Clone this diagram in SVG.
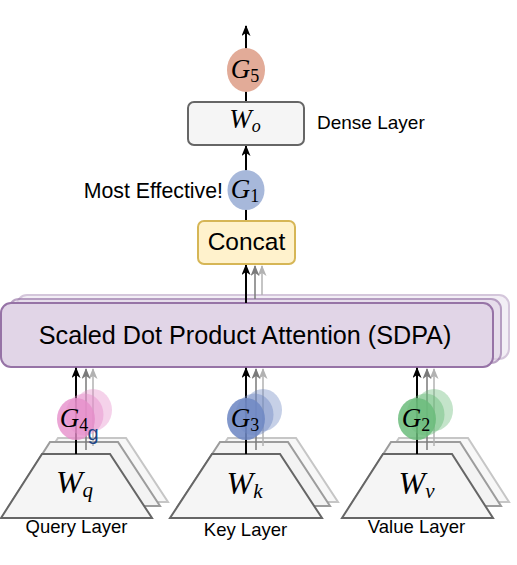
<svg xmlns="http://www.w3.org/2000/svg" width="517" height="565" viewBox="0 0 517 565">
<style>
.lbl{font-family:"Liberation Sans",Arial,sans-serif;fill:#000}
.math{font-family:"Liberation Serif","Times New Roman",serif;fill:#000}
.k{stroke:#000;stroke-width:2;fill:none;marker-end:url(#ahk)}
.g1{stroke:#7a7a7a;stroke-width:1.5;fill:none;marker-end:url(#ahg1)}
.g2{stroke:#b2b2b2;stroke-width:1.5;fill:none;marker-end:url(#ahg2)}
.trap{fill:#f5f5f5;stroke:#666;stroke-width:2}
.trap2{fill:#f3f3f3;stroke:#9c9c9c;stroke-width:2}
.trap3{fill:#f7f7f7;stroke:#c6c6c6;stroke-width:2}
.sdpa{fill:#e1d5e7;stroke:#9673a6;stroke-width:2}
.box{fill:#f5f5f5;stroke:#666;stroke-width:2}
</style>
<defs>
<marker id="ahk" viewBox="0 0 11 9" markerWidth="11" markerHeight="9" refX="10" refY="4.5" orient="auto" markerUnits="userSpaceOnUse"><path d="M0,0 L11,4.5 L0,9 L3,4.5 z" fill="#000"/></marker>
<marker id="ahg1" viewBox="0 0 11 9" markerWidth="11" markerHeight="9" refX="10" refY="4.5" orient="auto" markerUnits="userSpaceOnUse"><path d="M0,0 L11,4.5 L0,9 L3,4.5 z" fill="#7a7a7a"/></marker>
<marker id="ahg2" viewBox="0 0 11 9" markerWidth="11" markerHeight="9" refX="10" refY="4.5" orient="auto" markerUnits="userSpaceOnUse"><path d="M0,0 L11,4.5 L0,9 L3,4.5 z" fill="#b2b2b2"/></marker>
</defs>
<rect width="517" height="565" fill="#fff"/>

<g id="sdpa">
<rect x="17" y="295" width="492" height="64" rx="10" class="sdpa" opacity="0.4"/>
<rect x="9" y="299" width="492" height="64" rx="10" class="sdpa" opacity="0.65"/>
<rect x="1" y="303" width="492" height="64" rx="10" class="sdpa"/>
<text class="lbl" x="245" y="344" text-anchor="middle" font-size="25.2">Scaled Dot Product Attention (SDPA)</text>
</g>

<g id="query-layer">
<polygon class="trap3" points="58,438 126,438 168,502 17,502"/>
<polygon class="trap2" points="50,442 118,442 160,506 9,506"/>
<polygon class="trap" points="42,454 110,454 152,518 1,518"/>
<text class="math" x="74.5" y="493" text-anchor="middle" font-size="32"><tspan font-style="italic">W</tspan><tspan font-style="italic" font-size="21" dy="4">q</tspan></text>
<text class="lbl" x="76.5" y="533" text-anchor="middle" font-size="18.5">Query Layer</text>
</g>

<g id="key-layer">
<polygon class="trap3" points="228,438 296,438 338,502 186,502"/>
<polygon class="trap2" points="220,442 288,442 330,506 178,506"/>
<polygon class="trap" points="212,454 280,454 322,518 170,518"/>
<text class="math" x="244.5" y="494" text-anchor="middle" font-size="32"><tspan font-style="italic">W</tspan><tspan font-style="italic" font-size="21" dy="4">k</tspan></text>
<text class="lbl" x="245.5" y="536" text-anchor="middle" font-size="18.5">Key Layer</text>
</g>

<g id="value-layer">
<polygon class="trap3" points="399,438 468,438 509,502 358,502"/>
<polygon class="trap2" points="391,442 460,442 501,506 350,506"/>
<polygon class="trap" points="383,454 452,454 493,518 342,518"/>
<text class="math" x="416.5" y="494" text-anchor="middle" font-size="32"><tspan font-style="italic">W</tspan><tspan font-style="italic" font-size="21" dy="4">v</tspan></text>
<text class="lbl" x="416.5" y="533" text-anchor="middle" font-size="18.5">Value Layer</text>
</g>

<g id="connectors">
<line class="g2" x1="93" y1="446" x2="93" y2="369"/>
<line class="g1" x1="86" y1="450" x2="86" y2="369"/>
<line class="k" x1="76" y1="454" x2="76" y2="368"/>
<line class="g2" x1="263" y1="446" x2="263" y2="369"/>
<line class="g1" x1="256" y1="450" x2="256" y2="369"/>
<line class="k" x1="246" y1="454" x2="246" y2="368"/>
<line class="g2" x1="434" y1="446" x2="434" y2="369"/>
<line class="g1" x1="427" y1="450" x2="427" y2="369"/>
<line class="k" x1="417" y1="454" x2="417" y2="368"/>
<line class="g2" x1="262" y1="295" x2="262" y2="266"/>
<line class="g1" x1="255" y1="299" x2="255" y2="266"/>
<line class="k" x1="246" y1="303" x2="246" y2="265"/>
<line class="k" x1="246" y1="221" x2="246" y2="146"/>
<line class="k" x1="246" y1="102" x2="246" y2="26"/>
</g>

<g id="g4">
<ellipse cx="93" cy="410" rx="19" ry="21" fill="#e68fcb" opacity="0.4"/>
<ellipse cx="84.5" cy="414.5" rx="19" ry="21" fill="#e68fcb" opacity="0.45"/>
<ellipse cx="76" cy="419" rx="19" ry="21" fill="#e68fcb" opacity="0.8"/>
<text class="math" x="74" y="427" text-anchor="middle" font-size="27"><tspan font-style="italic">G</tspan><tspan font-size="18" dy="4">4</tspan></text>
<text x="87.5" y="440" font-family="Liberation Sans, Arial, sans-serif" font-size="20" fill="#1c4587">g</text>
</g>

<g id="g3">
<ellipse cx="263" cy="410" rx="19" ry="21" fill="#7089c4" opacity="0.4"/>
<ellipse cx="254.5" cy="414.5" rx="19" ry="21" fill="#7089c4" opacity="0.45"/>
<ellipse cx="246" cy="419" rx="19" ry="21" fill="#7089c4" opacity="0.88"/>
<text class="math" x="245" y="427" text-anchor="middle" font-size="27"><tspan font-style="italic">G</tspan><tspan font-size="18" dy="4">3</tspan></text>
</g>

<g id="g2">
<ellipse cx="434" cy="410" rx="19" ry="21" fill="#6bbc7b" opacity="0.4"/>
<ellipse cx="425.5" cy="414.5" rx="19" ry="21" fill="#6bbc7b" opacity="0.45"/>
<ellipse cx="417" cy="419" rx="19" ry="21" fill="#6bbc7b" opacity="0.85"/>
<text class="math" x="416" y="427" text-anchor="middle" font-size="27"><tspan font-style="italic">G</tspan><tspan font-size="18" dy="4">2</tspan></text>
</g>

<g id="concat">
<rect x="198" y="221" width="97" height="43" rx="6" fill="#fff2cc" stroke="#d6b656" stroke-width="2"/>
<text class="lbl" x="246.5" y="250" text-anchor="middle" font-size="24.5">Concat</text>
</g>

<g id="g1">
<ellipse cx="246" cy="190" rx="18.5" ry="20" fill="#a7b8da"/>
<text class="math" x="245" y="198" text-anchor="middle" font-size="27"><tspan font-style="italic">G</tspan><tspan font-size="18" dy="4">1</tspan></text>
<text class="lbl" x="223" y="198" text-anchor="end" font-size="21.3">Most Effective!</text>
</g>

<g id="wo">
<rect x="188" y="102" width="116" height="43" rx="6" class="box"/>
<text class="math" x="245" y="128" text-anchor="middle" font-size="27"><tspan font-style="italic">W</tspan><tspan font-style="italic" font-size="18" dy="4">o</tspan></text>
<text class="lbl" x="317" y="129" font-size="19">Dense Layer</text>
</g>

<g id="g5">
<ellipse cx="246" cy="70" rx="19" ry="22" fill="#e2ab98"/>
<text class="math" x="245" y="78" text-anchor="middle" font-size="27"><tspan font-style="italic">G</tspan><tspan font-size="18" dy="4">5</tspan></text>
</g>
</svg>
